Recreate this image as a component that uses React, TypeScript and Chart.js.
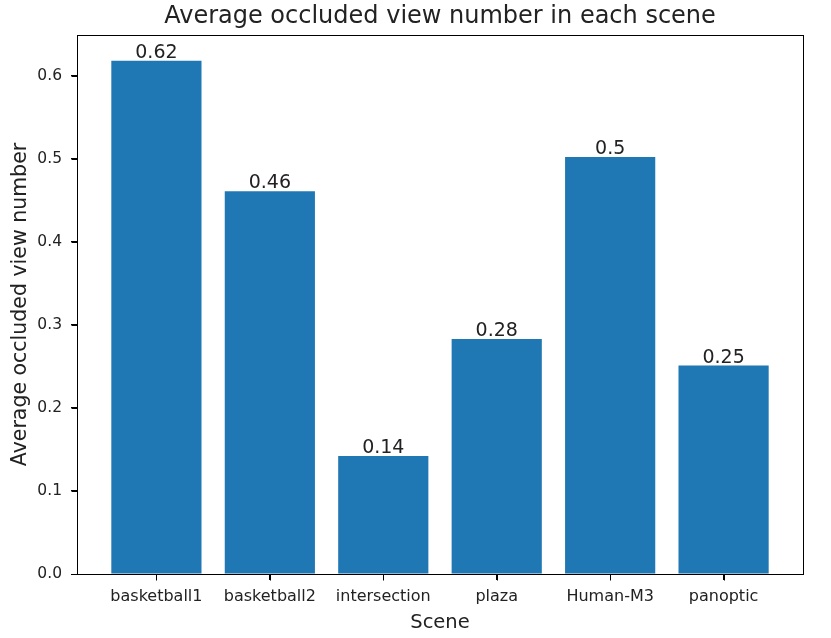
import React, { useEffect, useRef } from "react";
import { Chart, registerables } from "chart.js";

Chart.register(...registerables);

const categories = ["basketball1", "basketball2", "intersection", "plaza", "Human-M3", "panoptic"];
const values = [0.618, 0.461, 0.142, 0.283, 0.502, 0.251];
const valueLabels = ["0.62", "0.46", "0.14", "0.28", "0.5", "0.25"];
const yTicks = [0, 0.1, 0.2, 0.3, 0.4, 0.5, 0.6];

const FONT = "'DejaVu Sans', sans-serif";
const TICK_LEN = 6;

const extrasPlugin = {
  id: "extras",
  afterDatasetsDraw(chart: any) {
    const { ctx, chartArea, scales } = chart;
    ctx.save();
    // spines
    ctx.strokeStyle = "#000";
    ctx.lineWidth = 1;
    const l = Math.round(chartArea.left) + 0.5;
    const t = Math.round(chartArea.top) + 0.5;
    const b = Math.round(chartArea.bottom) + 0.5;
    ctx.strokeRect(l, t, Math.round(chartArea.right - chartArea.left), Math.round(chartArea.bottom - chartArea.top));
    // tick marks
    ctx.beginPath();
    categories.forEach((_, i) => {
      const x = Math.round(scales.x.getPixelForValue(i)) + 0.5;
      ctx.moveTo(x, b);
      ctx.lineTo(x, b + TICK_LEN);
    });
    yTicks.forEach((v) => {
      const y = Math.round(scales.y.getPixelForValue(v)) + 0.5;
      ctx.moveTo(l, y);
      ctx.lineTo(l - TICK_LEN, y);
    });
    ctx.stroke();
    // bar labels
    ctx.fillStyle = "#222";
    ctx.font = `19px ${FONT}`;
    ctx.textAlign = "center";
    ctx.textBaseline = "alphabetic";
    values.forEach((v, i) => {
      const x = scales.x.getPixelForValue(i);
      const y = scales.y.getPixelForValue(v);
      ctx.fillText(valueLabels[i], x, y - 3);
    });
    // title
    ctx.font = `24px ${FONT}`;
    ctx.fillText("Average occluded view number in each scene", (chartArea.left + chartArea.right) / 2, 23);
    ctx.restore();
  },
};

export default function App() {
  const ref = useRef<HTMLCanvasElement>(null);
  useEffect(() => {
    const chart = new Chart(ref.current!, {
      type: "bar",
      data: {
        datasets: [
          {
            data: values.map((v, i) => ({ x: i, y: v })),
            backgroundColor: "#1f77b4",
            borderColor: "#1f77b4",
            borderWidth: 0,
            categoryPercentage: 1,
            barPercentage: 0.795,
          },
        ],
      },
      options: {
        responsive: false,
        animation: false,
        layout: { padding: { left: 0, right: 28, top: 35, bottom: 0 } },
        plugins: { legend: { display: false }, tooltip: { enabled: false }, title: { display: false } },
        scales: {
          x: {
            type: "linear",
            min: -0.7,
            max: 5.7,
            offset: false,
            afterBuildTicks: (scale: any) => {
              scale.ticks = categories.map((_, i) => ({ value: i }));
            },
            afterFit: (scale: any) => {
              scale.height = 64;
            },
            grid: { offset: false, drawOnChartArea: false, drawTicks: true, tickLength: TICK_LEN, color: "#000", tickColor: "#000" },
            border: { color: "#000" },
            ticks: {
              color: "#222",
              font: { family: FONT, size: 16 },
              padding: 7,
              maxRotation: 0,
              autoSkip: false,
              callback: (v: any) => categories[Math.round(Number(v))] ?? "",
            },
            title: {
              display: true,
              text: "Scene",
              color: "#222",
              font: { family: FONT, size: 19.5 },
              padding: { top: 0, bottom: 3 },
            },
          },
          y: {
            type: "linear",
            min: 0,
            max: 0.649,
            afterBuildTicks: (scale: any) => {
              scale.ticks = yTicks.map((v) => ({ value: v }));
            },
            afterFit: (scale: any) => {
              scale.width = 77;
            },
            grid: { drawOnChartArea: false, drawTicks: true, tickLength: TICK_LEN, color: "#000", tickColor: "#000" },
            border: { color: "#000" },
            ticks: {
              color: "#222",
              font: { family: FONT, size: 15.5 },
              padding: 9,
              callback: (v: any) => Number(v).toFixed(1),
            },
            title: {
              display: true,
              text: "Average occluded view number",
              color: "#222",
              font: { family: FONT, size: 20.5 },
              padding: { top: 8, bottom: 0 },
            },
          },
        },
      },
      plugins: [extrasPlugin],
    } as any);
    return () => chart.destroy();
  }, []);
  return (
    <div style={{ position: "fixed", left: 0, top: 0, width: 831, height: 638, background: "#fff" }}>
      <canvas ref={ref} width={831} height={638} />
    </div>
  );
}
